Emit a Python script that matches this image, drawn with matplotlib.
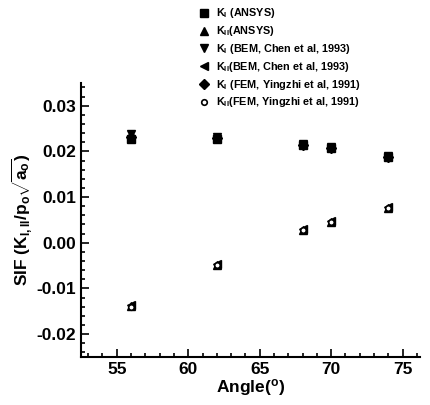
import matplotlib
matplotlib.use('Agg')
import matplotlib.pyplot as plt
from matplotlib.ticker import MultipleLocator

plt.rcParams['font.family'] = ['Liberation Sans', 'DejaVu Sans']
plt.rcParams['font.weight'] = 'bold'
plt.rcParams['axes.labelweight'] = 'bold'
plt.rcParams['mathtext.fontset'] = 'custom'
plt.rcParams['mathtext.rm'] = 'Liberation Sans:bold'
plt.rcParams['mathtext.it'] = 'Liberation Sans:bold'
plt.rcParams['mathtext.bf'] = 'Liberation Sans:bold'

# Crack angle (degrees)
angles = [56, 62, 68, 70, 74]

# Mode I SIF
ki_ansys = [0.0228, 0.0228, 0.0213, 0.0207, 0.0187]
ki_bem = [0.0238, 0.0232, 0.0216, 0.0209, 0.0189]
ki_fem = [0.0232, 0.0230, 0.0214, 0.0208, 0.0188]

# Mode II SIF
kii_ansys = [-0.0139, -0.0048, 0.0028, 0.0046, 0.0076]
kii_bem = [-0.0137, -0.0046, 0.0030, 0.0048, 0.0078]
kii_fem = [-0.0140, -0.0049, 0.0027, 0.0045, 0.0075]

fig = plt.figure(figsize=(4.31, 4.05), dpi=100)
ax = fig.add_axes([0.188, 0.1185, 0.786, 0.677])

ax.plot(angles, ki_ansys, 's', color='black', ms=6, label=r'K$_I$ (ANSYS)')
ax.plot(angles, kii_ansys, '^', color='black', ms=6, label=r'K$_{II}$(ANSYS)')
ax.plot(angles, ki_bem, 'v', color='black', ms=6, label=r'K$_I$ (BEM, Chen et al, 1993)')
ax.plot(angles, kii_bem, '<', color='black', ms=6, label=r'K$_{II}$(BEM, Chen et al, 1993)')
ax.plot(angles, ki_fem, 'D', color='black', ms=5, label=r'K$_I$ (FEM, Yingzhi et al, 1991)')
ax.plot(angles, kii_fem, 'o', mfc='white', mec='black', mew=1.2, ms=4,
        label=r'K$_{II}$(FEM, Yingzhi et al, 1991)')

ax.set_xlim(52.5, 76.2)
ax.set_ylim(-0.025, 0.035)
ax.xaxis.set_major_locator(MultipleLocator(5))
ax.xaxis.set_minor_locator(MultipleLocator(1))
ax.yaxis.set_major_locator(MultipleLocator(0.01))
ax.yaxis.set_minor_locator(MultipleLocator(0.002))
ax.set_yticks([-0.02, -0.01, 0.0, 0.01, 0.02, 0.03])
ax.set_yticklabels(['-0.02', '-0.01', '0.00', '0.01', '0.02', '0.03'])

ax.tick_params(which='both', direction='in', labelsize=12.5, width=1.2)
ax.tick_params(which='major', length=6)
ax.tick_params(which='minor', length=3)

for side in ['top', 'right']:
    ax.spines[side].set_visible(False)
for side in ['left', 'bottom']:
    ax.spines[side].set_linewidth(1.5)

ax.set_xlabel(r'Angle($^{\rm o}$)', fontsize=12.5, labelpad=0)
ax.set_ylabel(r'SIF (K$_{I,II}$/p$_o\sqrt{a_o}$)', fontsize=12.5, labelpad=2)

fig.legend(loc='upper left', bbox_to_anchor=(0.445, 1.0), frameon=False,
           fontsize=7.8, handlelength=1.0, handletextpad=0.6,
           labelspacing=0.35, borderaxespad=0.2)

plt.savefig('out.png', dpi=100)
